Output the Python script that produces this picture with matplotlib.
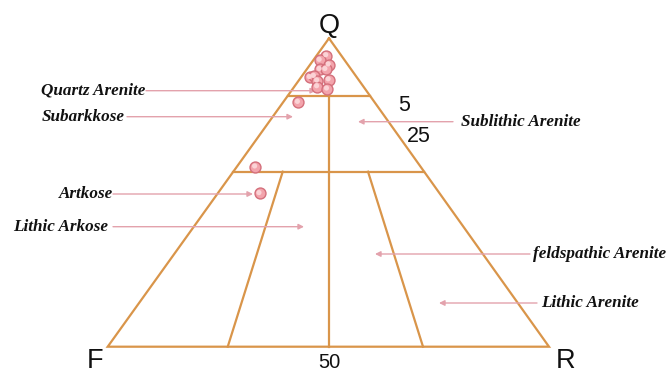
import matplotlib
matplotlib.use("Agg")
import matplotlib.pyplot as plt
import numpy as np

# ---------------- data ----------------
# sample compositions (percent): Quartz, Feldspar, Rock fragments
Q = [98.5, 98.1, 97.7, 97.3, 97.3, 96.6, 96.7, 96.3, 96.4, 95.8, 95.6, 93.3, 76.3, 65.7]
F = [0.9, 1.5, 1.15, 1.9, 1.55, 2.85, 2.55, 2.55, 1.8, 2.8, 2.3, 5.6, 21.3, 27.8]
R = [0.6, 0.4, 1.15, 0.8, 1.15, 0.55, 0.75, 1.15, 1.8, 1.4, 2.1, 1.1, 2.4, 6.5]

class_labels = ["Quartz Arenite", "Subarkkose", "Artkose", "Lithic Arkose",
                "Sublithic Arenite", "feldspathic Arenite", "Lithic Arenite"]
vertex_labels = ["Q", "F", "R"]
q_ticks = ["5", "25"]
fr_tick = "50"

# ---------------- schematic geometry (pixels) ----------------
W, H = 671, 372
APEX = (329.0, 38.3)
LEFT = (107.7, 346.7)
RIGHT = (549.0, 346.7)
# schematic (non-linear) placement of the quartz levels
Q_LEVELS = [0, 75, 95, 100]
Y_LEVELS = [LEFT[1], 171.7, 95.7, APEX[1]]


def q_to_y(q):
    return np.interp(q, Q_LEVELS, Y_LEVELS)


def edges(y):
    t = (y - APEX[1]) / (LEFT[1] - APEX[1])
    xl = APEX[0] + t * (LEFT[0] - APEX[0])
    xr = APEX[0] + t * (RIGHT[0] - APEX[0])
    return xl, xr


def to_xy(q, f, r):
    q, f, r = map(np.asarray, (q, f, r))
    y = q_to_y(q)
    xl, xr = edges(y)
    ratio = r / (f + r)
    return xl + ratio * (xr - xl), y


fig = plt.figure(figsize=(W / 100, H / 100), dpi=100)
ax = fig.add_axes([0, 0, 1, 1])
ax.set_xlim(0, W)
ax.set_ylim(H, 0)
ax.axis("off")

line_col = "#d9954a"
lw = 1.6

# outer triangle
tri = np.array([APEX, LEFT, RIGHT, APEX])
ax.plot(tri[:, 0], tri[:, 1], color=line_col, lw=lw, solid_joinstyle="miter")

# horizontal lines at Q = 95 and Q = 75
for q in (95, 75):
    y = q_to_y(q)
    xl, xr = edges(y)
    ax.plot([xl, xr], [y, y], color=line_col, lw=lw)

# central 50 line from Q95 to base
y95 = q_to_y(95)
ax.plot([APEX[0], APEX[0]], [y95, LEFT[1]], color=line_col, lw=lw)

# lower inner lines (ratio at Q75 -> ratio at base)
y75 = q_to_y(75)
xl75, xr75 = edges(y75)
for rt, rb in ((0.259, 0.272), (0.706, 0.7145)):
    xt = xl75 + rt * (xr75 - xl75)
    xb = LEFT[0] + rb * (RIGHT[0] - LEFT[0])
    ax.plot([xt, xb], [y75, LEFT[1]], color=line_col, lw=lw)

# sample points
px, py = to_xy(Q, F, R)
ax.scatter(px, py, s=62, facecolor="#f3a4ac", edgecolor="#d46f7b", linewidth=1.0, zorder=5)
ax.scatter(px - 0.8, py - 0.8, s=14, facecolor="#fbd3d6", edgecolor="none", zorder=6)

# vertex labels
vfont = dict(family="Liberation Sans", fontsize=19.5, color="#111111")
ax.text(329, 33, vertex_labels[0], ha="center", va="baseline", **vfont)
ax.text(95.3, 367.5, vertex_labels[1], ha="center", va="baseline", **vfont)
ax.text(565.3, 367.5, vertex_labels[2], ha="center", va="baseline", **vfont)

tfont = dict(family="Liberation Sans", fontsize=15.5, color="#111111")
ax.text(404, 105.5, q_ticks[0], ha="center", va="center", **tfont)
ax.text(418.5, 136, q_ticks[1], ha="center", va="center", **tfont)
ax.text(329.5, 368.5, fr_tick, ha="center", va="baseline", family="Liberation Sans",
        fontsize=14.5, color="#111111")

# class labels with arrows
lfont = dict(family="Liberation Serif", fontsize=12.3, fontweight="bold",
             fontstyle="italic", color="#111111")
arrow_col = "#e3a2ac"
# (text x, y, ha, arrow start x, arrow end x)
label_pos = [
    (40.7, 90.7, "left", 146, 316),
    (41.7, 116.7, "left", 127, 293),
    (59.3, 194.0, "left", 113, 253),
    (12.7, 226.7, "left", 113, 304),
    (460.7, 121.7, "left", 453, 358),
    (532.7, 254.0, "left", 530, 375),
    (540.7, 303.0, "left", 537, 439),
]
for name, (tx, ty, ha, x0, x1) in zip(class_labels, label_pos):
    ax.text(tx, ty, name, ha=ha, va="center", **lfont)
    ax.annotate("", xy=(x1, ty), xytext=(x0, ty),
                arrowprops=dict(arrowstyle="-|>", color=arrow_col, lw=1.0,
                                mutation_scale=8, shrinkA=0, shrinkB=0))

fig.savefig("out.png", dpi=100)
